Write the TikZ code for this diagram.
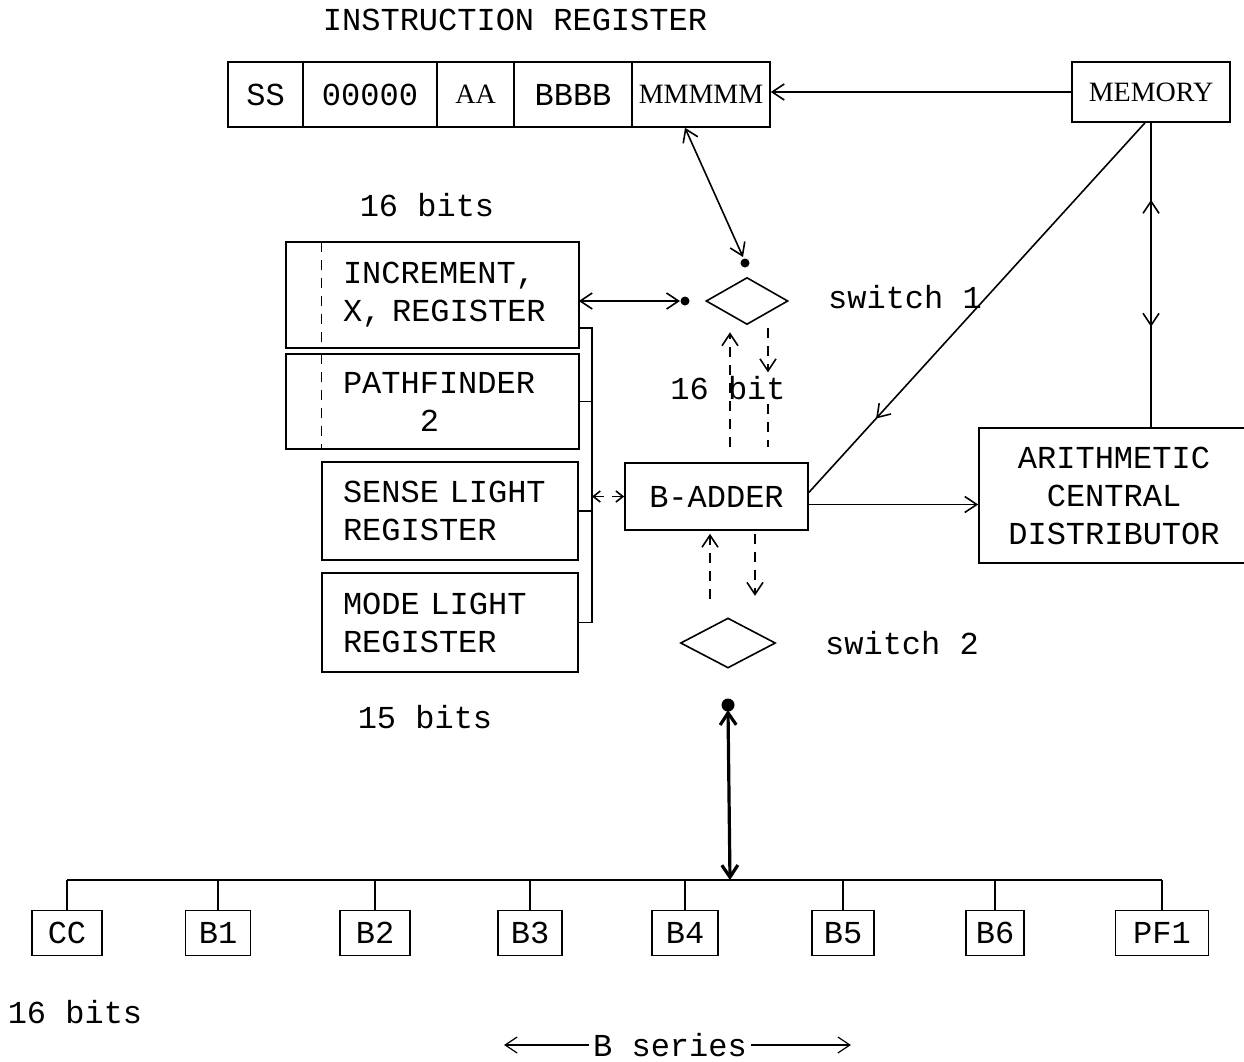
\documentclass[tikz,border=0pt]{standalone}
\usepackage{fontspec}
\setmainfont{Liberation Serif}
\setmonofont{Liberation Mono}
\usetikzlibrary{arrows.meta,shapes.geometric,decorations.markings}

\newcommand{\twfont}{\fontsize{32}{38}\selectfont\ttfamily}
\newcommand{\serfont}{\fontsize{28}{32}\selectfont\rmfamily}

\begin{document}
\begin{tikzpicture}[x=1pt, y=-1pt, line width=1.6pt,
    >={Straight Barb[length=12pt,width=16pt]},
    every node/.style={font=\twfont},
    field/.style={draw, minimum height=65pt, inner sep=0pt},
    regbox/.style={text width=214pt, inner xsep=21pt, align=left},
    sw/.style={draw, diamond, minimum width=82pt, minimum height=47pt, inner sep=0pt},
    bbox/.style={draw, minimum height=45pt, inner sep=4pt},
    dashline/.style={dash pattern=on 10pt off 8pt},
    midtip/.style={postaction={decorate},
      decoration={markings, mark=at position #1 with {\arrow{>}}}}]

    \useasboundingbox (0,0) rectangle (1244,1061);

    % Instruction register
    \node (irtitle) at (515,20) {INSTRUCTION REGISTER};
    \node[field, minimum width=75pt]  (ir1) at (265.5,94.5) {SS};
    \node[field, minimum width=134pt] (ir2) at (370,94.5) {00000};
    \node[field, minimum width=77pt, font=\serfont]  (ir3) at (475.5,94.5) {AA};
    \node[field, minimum width=118pt] (ir4) at (573,94.5) {BBBB};
    \node[field, minimum width=138pt, font=\serfont] (ir5) at (701,94.5) {MMMMM};

    % Memory and distributor
    \node[draw, minimum width=158pt, minimum height=60pt, font=\serfont] (mem) at (1151,92) {MEMORY};
    \node[draw, minimum width=270pt, minimum height=135pt, align=center] (acd) at (1114,495.5)
        {ARITHMETIC\\CENTRAL\\DISTRIBUTOR};

    % Left register stack
    \node (bits16) at (427,205) {16 bits};
    \node[regbox, minimum height=104pt] (incr) at (450,295) {INCREMENT,\\X, REGISTER};
    \node[regbox, minimum height=93pt] (pf2) at (450,401.5) {PATHFINDER\\\phantom{PATH}2};
    \node[regbox, draw, minimum height=98pt] (sense) at (450,511) {SENSE LIGHT\\REGISTER};
    \node[regbox, draw, minimum height=99pt] (mode) at (450,622.5) {MODE LIGHT\\REGISTER};
    \node (bits15) at (425,717) {15 bits};

    % boxes with a dashed left column
    \foreach \n in {incr,pf2}{
      \draw (\n.north east) rectangle ([xshift=-35pt]\n.south west);
      \draw[dashline, line width=1.2pt] (\n.north west) -- (\n.south west);
    }

    % Bracket joining the registers
    \coordinate (brT) at (592,328);
    \coordinate (brB) at (592,622.5);
    \draw (incr.east |- brT) -- (brT) -- (brB) -- (mode.east);
    \draw (pf2.east) -- (pf2.east -| brT);
    \draw (sense.east) -- (sense.east -| brT);

    % Switches and B-adder
    \node[sw] (sw1) at (747,301) {};
    \node (sw1lab) at (905,297) {switch 1};
    \node (bit16) at (728,388) {16 bit};
    \node[draw, minimum width=183pt, minimum height=67pt, inner sep=0pt] (badd) at (716.5,496.5) {B-ADDER};
    \node[sw, minimum width=95pt, minimum height=50pt] (sw2) at (728,643) {};
    \node (sw2lab) at (902,643) {switch 2};

    % Memory links
    \draw[->] (mem.west) -- (mem.west -| ir5.east);
    \draw[postaction={decorate}, decoration={markings,
        mark=at position 0.3 with {\arrow{<}},
        mark=at position 0.67 with {\arrow{>}}}]
        (mem.south) -- (mem.south |- acd.north);
    \draw[midtip=0.8] ([xshift=-6pt]mem.south) -- ([yshift=4pt]badd.east);
    \draw[->] ([yshift=-8pt]badd.east) -- ([yshift=-8pt]badd.east -| acd.west);

    % Switch 1 connections
    \coordinate (s1dotT) at (745,263);
    \coordinate (s1dotL) at (685,301);
    \draw[<->] ([xshift=-16pt]ir5.south) -- ([shift={(-2pt,6pt)}]s1dotT);
    \fill (s1dotT) circle[radius=4.5pt];
    \draw[<->] (incr.east |- s1dotL) -- ([xshift=-5pt]s1dotL);
    \fill (s1dotL) circle[radius=4.5pt];

    % 16 bit dashed paths
    \draw[dashline, ->] ([xshift=13.5pt,yshift=15pt]badd.north) -- ([xshift=-17pt,yshift=-7pt]sw1.south);
    \draw[dashline, ->] ([xshift=21pt,yshift=-3pt]sw1.south) -- ([xshift=21pt,yshift=-47pt]sw1.south);
    \draw[dashline] ([xshift=51.5pt,yshift=58pt]badd.north) -- ([xshift=51.5pt,yshift=15pt]badd.north);

    % B-adder to registers and switch 2
    \draw[dashline, {Straight Barb[length=7pt,width=11pt]}-{Straight Barb[length=7pt,width=11pt]}]
        (badd.west -| brT) -- (badd.west);
    \draw[dashline, ->] ([xshift=-6.5pt,yshift=-68pt]badd.south) -- ([xshift=-6.5pt,yshift=-3pt]badd.south);
    \draw[dashline, ->] ([xshift=38.5pt,yshift=-3pt]badd.south) -- ([xshift=38.5pt,yshift=-65pt]badd.south);

    % B series bus
    \coordinate (busL) at (67,880);
    \coordinate (busR) at (1162,880);
    \coordinate (busT) at (730,880);
    \coordinate (s2dot) at (728,705);
    \draw (busL) -- (busR);
    \draw[line width=3.2pt, <->] ([yshift=-5pt]s2dot) -- (busT);
    \fill (s2dot) circle[radius=6.5pt];

    \foreach \x/\w/\n/\t in {67/70/cc/CC, 218/65/b1/B1, 375/70/b2/B2, 530/64/b3/B3,
                             685/66/b4/B4, 843/62/b5/B5, 995/58/b6/B6, 1162/93/pf1/PF1}{
      \node[bbox, minimum width=\w pt] (\n) at (\x,933) {\t};
      \draw (\n.north) -- (\n.north |- busL);
    }

    % Captions
    \node (bits16b) at (75,1012) {16 bits};
    \node (bser) at (670,1045) {B series};
    \draw[->, line width=1.2pt] (bser.west) -- ++(-85,0);
    \draw[->, line width=1.2pt] (bser.east) -- ++(100,0);

\end{tikzpicture}
\end{document}
